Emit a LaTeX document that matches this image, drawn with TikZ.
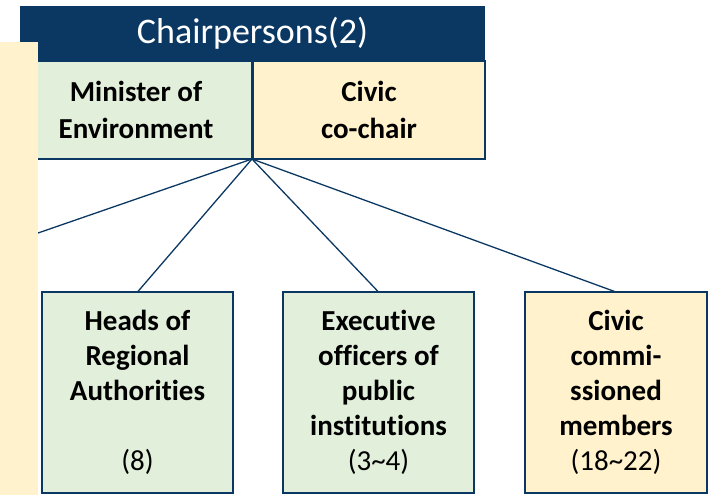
\documentclass[tikz,border=0pt]{standalone}
\usepackage{fontspec}
\setmainfont{Carlito}[Ligatures={NoCommon}]
\usetikzlibrary{positioning}

\definecolor{navy}{RGB}{11,56,98}
\definecolor{leaf}{RGB}{226,239,218}
\definecolor{sand}{RGB}{255,242,204}

\begin{document}
\begin{tikzpicture}[x=1pt, y=-1pt, node distance=0pt,
	title/.style={rectangle, fill=navy, text=white, anchor=north west, minimum width=465pt, minimum height=55pt, inner sep=0pt, outer sep=0pt, font=\fontsize{36}{40}\selectfont},
	seat/.style={rectangle, draw=navy, line width=2pt, anchor=north west, minimum width=232pt, minimum height=98pt, inner sep=2pt, outer sep=0pt, align=center, font=\fontsize{29}{37}\selectfont\bfseries},
	member/.style={rectangle, draw=navy, line width=2pt, anchor=north west, minimum height=201pt, inner sep=2pt, outer sep=0pt, align=center, font=\fontsize{29}{35}\selectfont},
	link/.style={draw=navy, line width=1.3pt}]
	\useasboundingbox (0,0) rectangle (708,495);

	\node[title] (chairs) at (20,6) {Chairpersons(2)};
	\node[seat, fill=leaf] (minister) at (20,61) {Minister of\\Environment};
	\node[seat, fill=sand, right = of minister.north east, anchor=north west, xshift=1pt] (cochair) {Civic\\co-chair};
	\coordinate (hub) at (minister.south east);
	\coordinate (cut) at (38,233);

	\node[member, fill=leaf, minimum width=191pt] (heads) at (42,292) {\textbf{Heads of}\\\textbf{Regional}\\\textbf{Authorities}\\\mbox{}\\(8)};
	\node[member, fill=leaf, minimum width=191pt] (officers) at (283,292) {\textbf{Executive}\\\textbf{officers of}\\\textbf{public}\\\textbf{institutions}\\(3\textasciitilde 4)};
	\node[member, fill=sand, minimum width=182pt] (civic) at (525,292) {\textbf{Civic}\\\textbf{commi-}\\\textbf{ssioned}\\\textbf{members}\\(18\textasciitilde 22)};

	\draw[link] (hub) -- (cut);
	\draw[link] (hub) -- (heads.north);
	\draw[link] (hub) -- (officers.north);
	\draw[link] (hub) -- (civic.north);

	% side panel on top
	\node[rectangle, fill=sand, anchor=north west, minimum width=38pt, minimum height=453pt, inner sep=0pt, outer sep=0pt] (side) at (0,42) {};
\end{tikzpicture}
\end{document}
